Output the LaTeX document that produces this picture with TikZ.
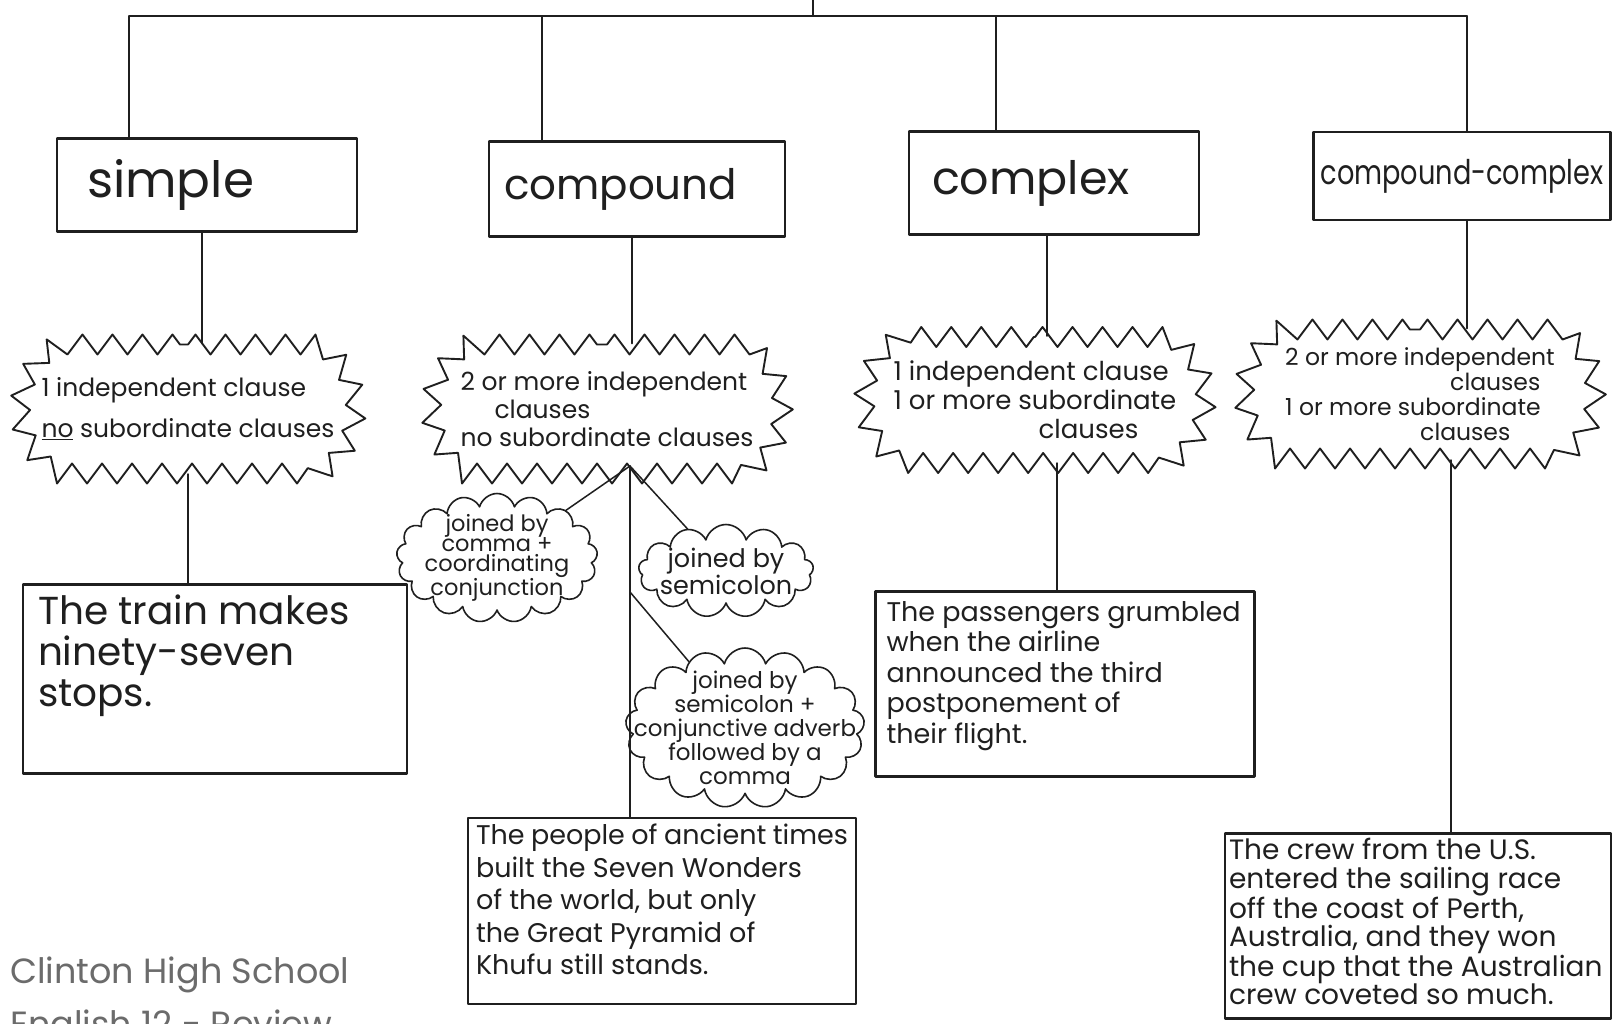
\documentclass[tikz,border=0pt]{standalone}
\usepackage{fontspec}
\usepackage{graphicx}
\setmainfont{Poppins}
\usetikzlibrary{shapes.symbols,shapes.misc,decorations.pathmorphing}
\newcommand\fsz[2]{\fontsize{#1}{#2}\selectfont}
% fixed-size card whose text sits at the top-left
\newcommand\cardtext[3]{\parbox[c][#2][t]{#1}{\raggedright #3}}
\definecolor{ink}{gray}{0.12}
\definecolor{pencil}{gray}{0.42}
\begin{document}
\begin{tikzpicture}[x=1pt,y=-1pt,line join=round,line cap=round,
  wire/.style={draw=ink,line width=1.5pt},
  typebox/.style={draw=ink,line width=2.4pt,rectangle,align=left,text=ink,inner ysep=0pt},
  example/.style={draw=ink,line width=2.2pt,rectangle,text=ink},
  burst/.style={draw=ink,line width=1.9pt,rounded rectangle,rounded rectangle arc length=120,
    inner sep=0pt,decorate,decoration={zigzag,segment length=30pt,amplitude=10pt}},
  puff/.style={draw=ink,line width=1.6pt,cloud,cloud ignores aspect,inner sep=0pt},
  bursttext/.style={align=left,text=ink,inner sep=0pt},
  pufftext/.style={align=center,text=ink,inner sep=0pt}]
\useasboundingbox[fill=white] (0,0) rectangle (1614,1023);

% ---- sentence types ----
\node[typebox,text width=240pt,inner xsep=30pt,minimum height=93pt,font=\fsz{50}{50}] (simple) at (207,185) {simple};
\node[typebox,text width=266pt,inner xsep=15pt,minimum height=95pt,font=\fsz{42}{42}] (compound) at (637,189) {compound};
\node[typebox,text width=244pt,inner xsep=23pt,minimum height=103pt,font=\fsz{46}{46}] (complex) at (1054,183) {complex};
\node[typebox,text width=283pt,inner xsep=7pt,minimum height=88pt,font=\fsz{34}{34}] (cc) at (1462,176)
  {\scalebox{0.8}[1]{compound-complex}};

% ---- tree above the boxes ----
\coordinate (root) at (813,0);
\coordinate (busL) at (129,16);
\coordinate (busR) at (1467,16);
\coordinate (b2) at (542,16);
\coordinate (b3) at (996,16);
\draw[wire] (root) -- (root |- busL);
\draw[wire] (busL) -- (busR);
\draw[wire] (busL) -- (busL |- simple.north);
\draw[wire] (b2) -- (b2 |- compound.north);
\draw[wire] (b3) -- (b3 |- complex.north);
\draw[wire] (busR) -- (busR |- cc.north);

% ---- definitions ----
\node[burst,minimum width=335pt,minimum height=129pt,
  label={[bursttext,font=\fsz{25}{41}]center:1 independent clause\\\underline{no} subordinate clauses}] (star1) at (188,409) {};
\node[burst,minimum width=351pt,minimum height=129pt,
  label={[bursttext,font=\fsz{25}{28}]center:2 or more independent\\\hspace*{34pt}clauses\\no subordinate clauses}] (star2) at (607,409) {};
\node[burst,minimum width=341pt,minimum height=126pt,
  label={[bursttext,font=\fsz{26}{29}]center:1 independent clause\\1 or more subordinate\\\hspace*{145pt}clauses}] (star3) at (1035,400) {};
\node[burst,minimum width=351pt,minimum height=129pt,
  label={[bursttext,font=\fsz{23.5}{25}]center:2 or more independent\\\hspace*{165pt}clauses\\1 or more subordinate\\\hspace*{135pt}clauses}] (star4) at (1420,394) {};

\draw[wire] ([xshift=-5pt]simple.south) -- ([xshift=-5pt]simple.south |- star1.north);
\draw[wire] ([xshift=-5pt]compound.south) -- ([xshift=-5pt]compound.south |- star2.north);
\draw[wire] ([xshift=-7pt]complex.south) -- ([xshift=-7pt]complex.south |- star3.north);
\draw[wire] ([xshift=5pt]cc.south) -- ([xshift=5pt]cc.south |- star4.north);

% ---- ways of joining clauses ----
\node[puff,cloud puffs=17,minimum width=201pt,minimum height=129pt,
  label={[pufftext,font=\fsz{22.5}{20}]center:joined by\\comma +\\coordinating\\conjunction}] (cloud1) at (497,558) {};
\node[puff,cloud puffs=13,minimum width=175pt,minimum height=93pt,
  label={[pufftext,font=\fsz{25.5}{26}]center:joined by\\semicolon}] (cloud2) at (726,571) {};
\node[puff,cloud puffs=17,minimum width=239pt,minimum height=160pt,
  label={[pufftext,font=\fsz{23}{24}]center:joined by\\semicolon +\\conjunctive adverb\\followed by a\\comma}] (cloud3) at (745,728) {};

% ---- example sentences ----
\node[example,inner xsep=15pt,inner ysep=10pt,font=\fsz{39}{41}] (ex1) at (215,679)
  {\cardtext{354pt}{169pt}{The train makes\\ninety-seven\\stops.}};
\node[example,inner xsep=8pt,inner ysep=6pt,font=\fsz{27}{32.5}] (ex2) at (662,911)
  {\cardtext{372pt}{174pt}{The people of ancient times\\built the Seven Wonders\\of the world, but only\\the Great Pyramid of\\Khufu still stands.}};
\node[example,inner xsep=11pt,inner ysep=10pt,font=\fsz{27}{30.5}] (ex3) at (1065,684)
  {\cardtext{357pt}{165pt}{The passengers grumbled\\when the airline\\announced the third\\postponement of\\their flight.}};
\node[example,inner xsep=4pt,inner ysep=5pt,font=\fsz{28}{28.5}] (ex4) at (1418,926)
  {\cardtext{378pt}{175pt}{The crew from the U.S.\\entered the sailing race\\off the coast of Perth,\\Australia, and they won\\the cup that the Australian\\crew coveted so much.}};

% ---- connectors below the definitions ----
\coordinate (d1) at (188,474);
\coordinate (cjoin) at (630,466);
\coordinate (c3join) at (630,592);
\coordinate (d3) at (1057,463);
\coordinate (d4) at (1451,460);
\draw[wire] (d1) -- (d1 |- ex1.north);
\draw[wire] (cjoin) -- (cjoin |- ex2.north);
\draw[wire] (cjoin) -- (cloud1);
\draw[wire] (cjoin) -- (cloud2);
\draw[wire] (c3join) -- (cloud3);
\draw[wire] (d3) -- (d3 |- ex3.north);
\draw[wire] (d4) -- (d4 |- ex4.north);

% ---- pencilled note ----
\node[anchor=base west,text=pencil,font=\fsz{35}{35},inner sep=0pt] (school) at (10,983) {Clinton High School};
\node[anchor=base west,text=pencil,font=\fsz{35}{35},inner sep=0pt] (course) at (10,1036) {English 12 - Review};
\end{tikzpicture}
\end{document}
